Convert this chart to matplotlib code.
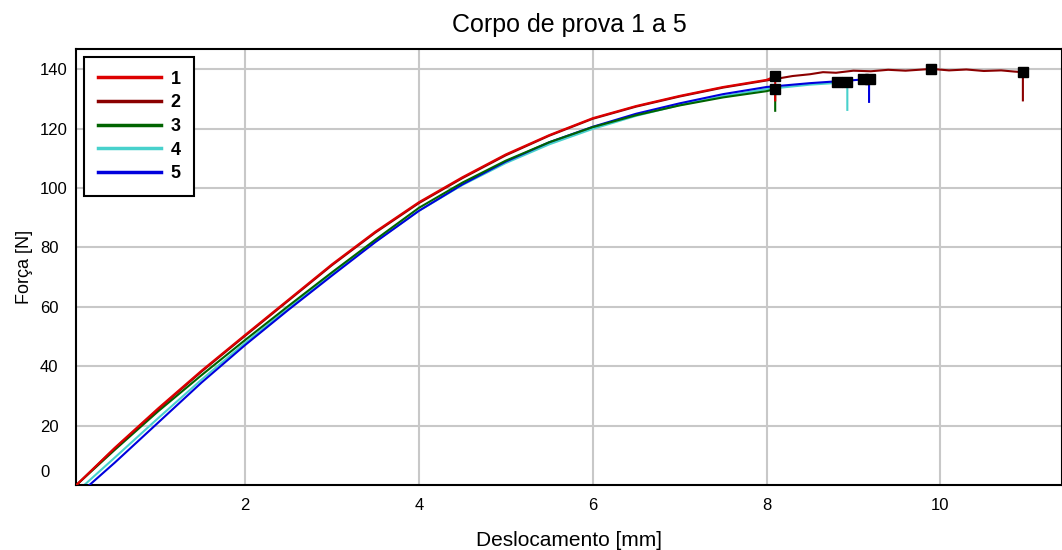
import matplotlib
matplotlib.use("Agg")
import matplotlib.pyplot as plt

plt.rcParams['font.family'] = ['Liberation Sans', 'DejaVu Sans']

# Specimens
labels = ["1", "2", "3", "4", "5"]
colors = ["#dd0000", "#8b0000", "#006400", "#48d1cc", "#0000dd"]

# Displacement [mm] / Force [N] (last point = drop after break)
disp_1 = [0.06, 0.5, 1.0, 1.5, 2.0, 2.5, 3.0, 3.5, 4.0, 4.5, 5.0, 5.5, 6.0, 6.5, 7.0, 7.5, 8.0, 8.1, 8.1]
force_1 = [0, 12.5, 25.8, 38.5, 50.5, 62.4, 74.3, 85.3, 95.2, 103.6, 111.3, 117.8, 123.5, 127.6, 131.0, 134.0, 136.4, 137.6, 129.5]

disp_2 = [0.06, 0.5, 1.0, 1.5, 2.0, 2.5, 3.0, 3.5, 4.0, 4.5, 5.0, 5.5, 6.0, 6.5, 7.0, 7.5, 8.0,
          8.3, 8.5, 8.65, 8.8, 9.0, 9.2, 9.4, 9.6, 9.9, 10.1, 10.3, 10.5, 10.7, 10.85, 10.95, 10.95]
force_2 = [0, 12.3, 25.5, 38.2, 50.2, 62.1, 74.0, 85.0, 94.9, 103.3, 111.0, 117.6, 123.3, 127.4, 130.8, 133.8, 136.2,
           137.7, 138.3, 139.0, 138.8, 139.5, 139.3, 139.8, 139.5, 140.1, 139.6, 139.9, 139.4, 139.6, 139.2, 139.0, 129.5]

disp_3 = [0.06, 0.5, 1.0, 1.5, 2.0, 2.5, 3.0, 3.5, 4.0, 4.5, 5.0, 5.5, 6.0, 6.5, 7.0, 7.5, 8.0, 8.1, 8.1]
force_3 = [0, 11.8, 24.8, 37.0, 48.8, 60.3, 71.6, 82.6, 93.3, 101.8, 109.2, 115.4, 120.5, 124.5, 127.8, 130.5, 132.6, 133.3, 126.0]

disp_4 = [0.15, 0.5, 1.0, 1.5, 2.0, 2.5, 3.0, 3.5, 4.0, 4.5, 5.0, 5.5, 6.0, 6.5, 7.0, 7.5, 8.0, 8.5, 8.93, 8.93]
force_4 = [0, 9.2, 22.5, 35.5, 47.8, 59.5, 71.0, 82.0, 92.3, 101.0, 108.4, 114.7, 119.9, 124.3, 127.9, 130.9, 133.3, 134.8, 135.6, 126.3]

disp_5 = [0.21, 0.5, 1.0, 1.5, 2.0, 2.5, 3.0, 3.5, 4.0, 4.5, 5.0, 5.5, 6.0, 6.5, 7.0, 7.5, 8.0, 8.5, 9.0, 9.18, 9.18]
force_5 = [0, 7.5, 21.0, 34.5, 47.1, 59.0, 70.5, 81.8, 92.3, 101.2, 108.9, 115.4, 120.6, 125.0, 128.5, 131.6, 134.0, 135.3, 136.3, 136.7, 129.0]

# Black squares (max force / break points)
mark_x = [8.1, 8.1, 8.81, 8.93, 9.11, 9.19, 9.89, 10.95]
mark_y = [137.8, 133.3, 135.6, 135.6, 136.7, 136.7, 140.1, 139.0]

series = [(disp_1, force_1), (disp_2, force_2), (disp_3, force_3), (disp_4, force_4), (disp_5, force_5)]
zorders = [6, 5, 4, 2, 3]

fig = plt.figure(figsize=(10.62, 5.5), dpi=100)
ax = fig.add_axes([76 / 1062, 65 / 550, 986 / 1062, 436 / 550])

for (x, y), lab, col, z in zip(series, labels, colors, zorders):
    ax.plot(x, y, color=col, lw=1.5, label=lab, zorder=z)

ax.plot(mark_x, mark_y, "s", color="black", ms=7.5, zorder=10, clip_on=False)

ax.set_xlim(0.055, 11.4)
ax.set_ylim(0, 146.8)
ax.set_xticks([2, 4, 6, 8, 10])
ax.set_yticks([20, 40, 60, 80, 100, 120, 140])
ax.grid(True, color="#c8c8c8", lw=1.5)
ax.set_axisbelow(True)

ax.tick_params(length=0, labelsize=12)
ax.tick_params(axis="x", pad=9)
ax.tick_params(axis="y", pad=26)
for lbl in ax.get_yticklabels():
    lbl.set_horizontalalignment("left")

# "0" label sits a bit above the bottom edge
ax.annotate("0", xy=(0, 0), xycoords=("axes fraction", "data"),
            xytext=(-26, 9), textcoords="offset points",
            ha="left", va="center", fontsize=12)

for s in ax.spines.values():
    s.set_color("black")
    s.set_linewidth(1.5)

ax.set_title("Corpo de prova 1 a 5", fontsize=18, pad=12)
ax.set_xlabel("Deslocamento [mm]", fontsize=15, labelpad=13)
ax.set_ylabel("Força [N]", fontsize=13, labelpad=5)

leg = ax.legend(loc="upper left", prop={"weight": "bold", "size": 13},
                handlelength=3.5, handletextpad=0.55, labelspacing=0.37,
                borderpad=0.75, borderaxespad=0.45, fancybox=False, framealpha=1)
leg.get_frame().set_edgecolor("black")
leg.get_frame().set_linewidth(1.5)
for line in leg.get_lines():
    line.set_linewidth(2.5)

fig.savefig("out.png", dpi=100)
